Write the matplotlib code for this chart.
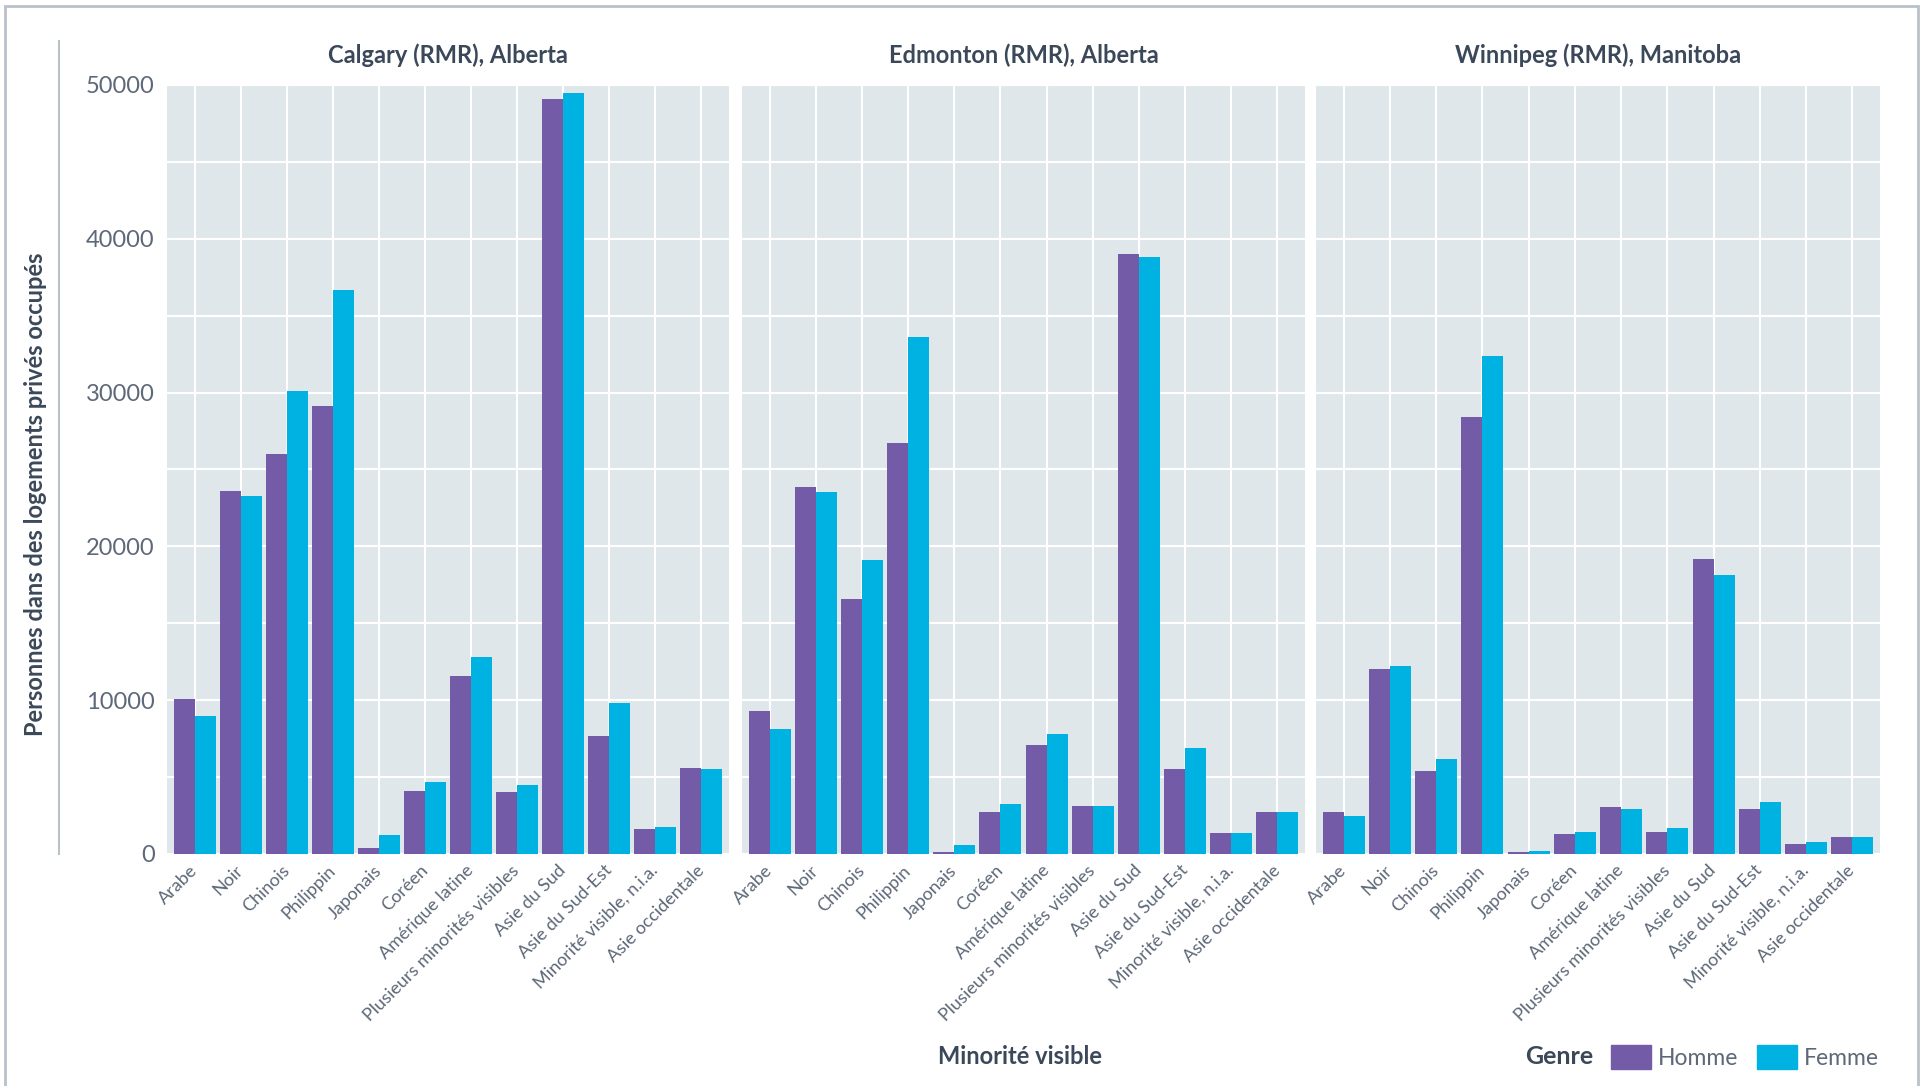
"""Minorité visible par genre - Calgary, Edmonton, Winnipeg."""

import matplotlib
matplotlib.use("Agg")
import matplotlib.pyplot as plt
from matplotlib.patches import Patch, Rectangle
from matplotlib.lines import Line2D
import numpy as np

categories = [
    "Arabe", "Noir", "Chinois", "Philippin", "Japonais", "Coréen",
    "Amérique latine", "Plusieurs minorités visibles", "Asie du Sud",
    "Asie du Sud-Est", "Minorité visible, n.i.a.", "Asie occidentale",
]
cities = ["Calgary (RMR), Alberta", "Edmonton (RMR), Alberta", "Winnipeg (RMR), Manitoba"]

calgary_homme = [10050, 23600, 26000, 29100, 400, 4100, 11600, 4000, 49100, 7700, 1650, 5600]
calgary_femme = [8950, 23300, 30100, 36700, 1250, 4650, 12800, 4500, 49500, 9850, 1780, 5500]
edmonton_homme = [9300, 23850, 16600, 26750, 150, 2750, 7100, 3100, 39000, 5550, 1380, 2750]
edmonton_femme = [8150, 23550, 19100, 33600, 600, 3250, 7800, 3100, 38800, 6900, 1380, 2700]
winnipeg_homme = [2700, 12050, 5400, 28400, 100, 1330, 3030, 1460, 19200, 2950, 620, 1120]
winnipeg_femme = [2450, 12250, 6200, 32400, 220, 1400, 2950, 1720, 18150, 3350, 800, 1120]

homme = [calgary_homme, edmonton_homme, winnipeg_homme]
femme = [calgary_femme, edmonton_femme, winnipeg_femme]

PURPLE = "#735ba7"
CYAN = "#00b2e2"
BG = "#e0e7eb"
DARK = "#3b4859"
GREY = "#5d6878"

plt.rcParams["font.family"] = ["Lato", "DejaVu Sans"]

W, H = 1929, 1086
fig = plt.figure(figsize=(W / 100, H / 100), dpi=100)


def fx(px):
    return px / W


def fy(py):
    return 1 - py / H


# panel positions in pixels (left, right), top and bottom shared
panels_x = [(167, 729), (742, 1305), (1316, 1880)]
top, bottom = 85, 854

x = np.arange(len(categories))
bw = 0.455
for i, (l, r) in enumerate(panels_x):
    ax = fig.add_axes([fx(l), fy(bottom), fx(r - l), (bottom - top) / H])
    ax.set_facecolor(BG)
    ax.bar(x - bw / 2, homme[i], bw, color=PURPLE, zorder=3)
    ax.bar(x + bw / 2, femme[i], bw, color=CYAN, zorder=3)
    ax.set_xlim(-0.6, 11.6)
    ax.set_ylim(0, 50000)
    ax.set_yticks(np.arange(0, 50001, 5000))
    if i == 0:
        ax.set_yticklabels([f"{v}" if v % 10000 == 0 else "" for v in range(0, 50001, 5000)])
    else:
        ax.set_yticklabels([])
    ax.set_xticks(x)
    ax.set_xticklabels(categories, rotation=45, ha="right", va="center",
                       rotation_mode="anchor", fontsize=13, color=GREY)
    ax.tick_params(axis="both", length=0)
    ax.tick_params(axis="x", pad=10)
    ax.tick_params(axis="y", pad=9, labelsize=17, labelcolor=GREY)
    ax.grid(True, color="white", linewidth=1.5, zorder=0)
    ax.set_axisbelow(True)
    for s in ax.spines.values():
        s.set_visible(False)
    ax.set_title(cities[i], fontsize=17, fontweight="bold", color=DARK, pad=16)

# y axis line and label
fig.add_artist(Line2D([fx(59), fx(59)], [fy(41), fy(854)], color="#b9c1c9", linewidth=1.5))
fig.text(fx(36), fy(494), "Personnes dans des logements privés occupés", rotation=90,
         ha="center", va="center", fontsize=17, fontweight="bold", color=DARK)

# x label
fig.text(fx(1020), fy(1057), "Minorité visible", ha="center", va="center",
         fontsize=17, fontweight="bold", color=DARK)

# legend
fig.text(fx(1593), fy(1057), "Genre", ha="right", va="center",
         fontsize=18, fontweight="bold", color=DARK)
handles = [Patch(color=PURPLE, label="Homme"), Patch(color=CYAN, label="Femme")]
leg = fig.legend(handles=handles, loc="center left", bbox_to_anchor=(fx(1611), fy(1057)),
                 ncol=2, frameon=False, fontsize=16.5, handlelength=1.75, handleheight=1.2,
                 handletextpad=0.3, columnspacing=0.8, borderpad=0, borderaxespad=0)
for t in leg.get_texts():
    t.set_color(GREY)

# outer border
fig.add_artist(Rectangle((fx(5), -0.01), fx(1913), fy(6) + 0.01, transform=fig.transFigure,
                         fill=False, edgecolor="#b9c1c9", linewidth=2))

fig.savefig("out.png", dpi=100)
